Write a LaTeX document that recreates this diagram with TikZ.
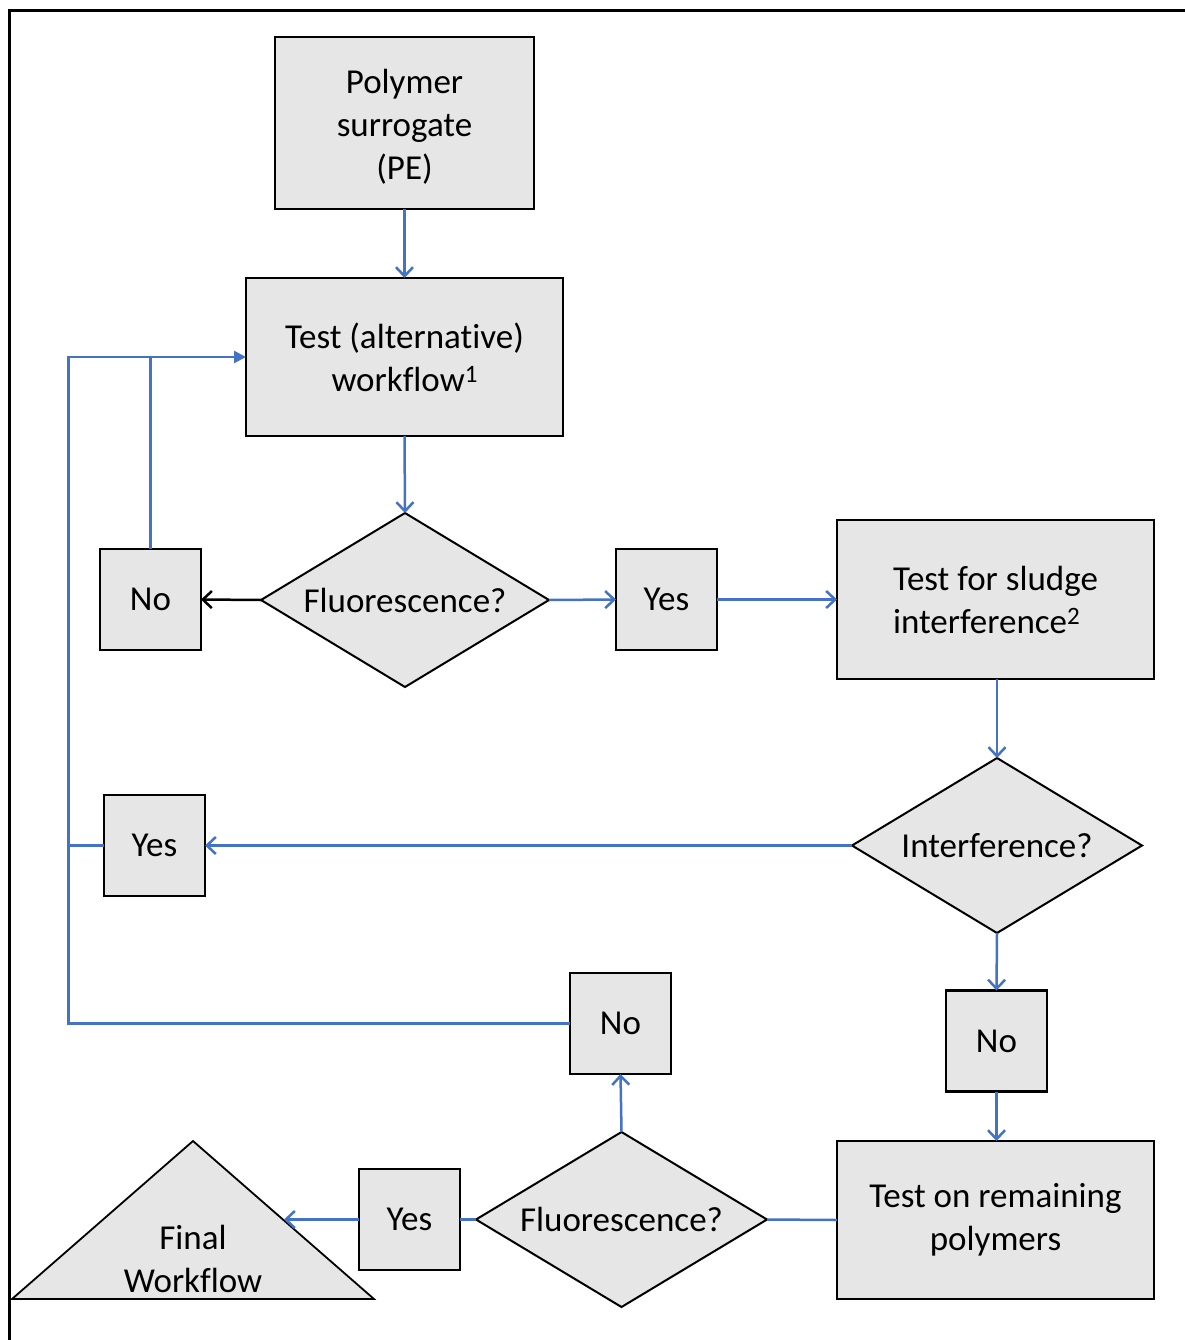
\documentclass[tikz,border=0pt]{standalone}
\usepackage{fontspec}
\setmainfont{Carlito}[Ligatures={NoCommon}]
\usetikzlibrary{shapes.geometric,arrows.meta}
\definecolor{boxgray}{HTML}{E6E6E6}
\definecolor{flowblue}{HTML}{4472C4}
\newcommand{\fnmark}[1]{\raisebox{9pt}{\fontsize{25}{25}\selectfont #1}}
\begin{document}
\begin{tikzpicture}[x=1pt,y=-1pt,
  every node/.style={font=\fontsize{35}{43}\selectfont, inner sep=0pt, outer sep=0pt},
  procbox/.style={draw=black, line width=2.5pt, fill=boxgray, align=center},
  answer/.style={procbox, minimum width=101pt, minimum height=101pt},
  decision/.style={diamond, draw=black, line width=2pt, fill=boxgray, shape aspect=1.65},
  flow/.style={draw=flowblue, line width=2.5pt},
  flowarrow/.style={flow, -{Straight Barb[length=9pt,width=17pt,line width=2.5pt]}},
  loopin/.style={flow, -{Triangle[length=12pt,width=12pt]}}
]
\useasboundingbox (0,0) rectangle (1184,1340);
\fill[white] (0,0) rectangle (1184,1340);

% frame
\draw[line width=3pt, line cap=rect] (9,1340) -- (9,10.5) -- (1184,10.5);

% process boxes
\node[procbox, minimum width=259pt, minimum height=172pt] (pe) at (404.5,123) {};
\node[align=center] (petext) at (404.5,127) {Polymer\\surrogate\\(PE)};
\node[procbox, minimum width=317pt, minimum height=158pt] (test) at (404.5,357) {Test (alternative)\\workflow\fnmark{1}};
\node[procbox, minimum width=317pt, minimum height=159pt, align=left] (sludge) at (995.5,599.5) {Test for sludge\\interference\fnmark{2}};
\node[procbox, minimum width=317pt, minimum height=158pt] (remain) at (995.5,1220) {Test on remaining\\polymers};

% decisions
\node[decision, minimum width=288pt, minimum height=174pt] (fl1) at (405,600) {Fluorescence?};
\node[decision, minimum width=290pt, minimum height=175pt] (intf) at (997,845.5) {Interference?};
\node[decision, minimum width=291pt, minimum height=175pt] (fl2) at (621.5,1219.5) {Fluorescence?};

% answers
\node[answer] (no1) at (150.5,599.5) {No};
\node[answer] (yes1) at (666.5,599.5) {Yes};
\node[answer] (yes2) at (154.5,845.5) {Yes};
\node[answer] (no2) at (996.5,1041) {No};
\node[answer] (no3) at (620.5,1023.5) {No};
\node[answer] (yes3) at (409.5,1219.5) {Yes};

% final workflow
\draw[line width=1.8pt, fill=boxgray, line join=miter] (193,1141) -- (374,1299) -- (12,1299) -- cycle;
\node[align=center] (final) at (193,1259) {Final\\Workflow};
\coordinate (finaledge) at (284,1219.5);

% loop-back joints
\coordinate (loopx) at (68.5,357);
\coordinate (noup) at (150.5,357);

% connectors
\draw[flowarrow] (pe.south) -- (test.north);
\draw[flowarrow] (test.south) -- (fl1.north);
\draw[line width=2.5pt, draw=black, -{Straight Barb[length=9pt,width=17pt,line width=2.5pt]}] (fl1.west) -- (no1.east);
\draw[flowarrow] (fl1.east) -- (yes1.west);
\draw[flowarrow] (yes1.east) -- (sludge.west);
\draw[flowarrow] (sludge.south -| intf.north) -- (intf.north);
\draw[flowarrow] (intf.west) -- (yes2.east);
\draw[flowarrow] (intf.south) -- (no2.north);
\draw[flowarrow] (no2.south) -- (no2.south |- remain.north);
\draw[flow] (remain.west) -- (fl2.east);
\draw[flowarrow] (fl2.north) -- (no3.south);
\draw[flow] (fl2.west) -- (yes3.east);
\draw[flowarrow] (yes3.west) -- (finaledge);

\draw[loopin] (no3.west) -- (no3.west -| loopx) -- (loopx) -- (test.west);
\draw[flow] (yes2.west) -- (yes2.west -| loopx);
\draw[flow] (no1.north) -- (noup);
\end{tikzpicture}
\end{document}
